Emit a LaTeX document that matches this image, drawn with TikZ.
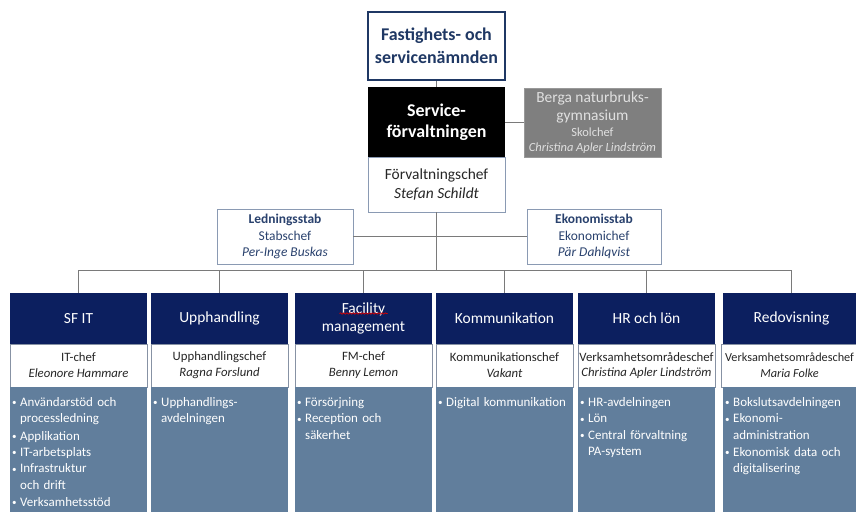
\documentclass[tikz,border=0pt]{standalone}
\usepackage{fontspec}
\setmainfont{Carlito}
\usetikzlibrary{decorations.pathmorphing}

\definecolor{boardnavy}{HTML}{1F3864}
\definecolor{headnavy}{HTML}{0C1F5F}
\definecolor{slate}{HTML}{617E9C}
\definecolor{schoolgray}{HTML}{7F7F7F}
\definecolor{staffline}{HTML}{8A9AB3}
\definecolor{wire}{HTML}{7A7A7A}
\definecolor{stafftext}{HTML}{2A426E}

% one bullet entry of a unit's list; its extra lines stay under the text
\newcommand{\unititem}[1]{\par\noindent
  \makebox[8bp][l]{\raisebox{0.6bp}{\scalebox{0.7}{•}}}%
  \begin{tabular}[t]{@{}l@{}}#1\end{tabular}\par}

\begin{document}
\begin{tikzpicture}[x=1bp,y=-1bp,
  conn/.style={draw=wire, line width=0.9bp},
  boardbox/.style={draw=boardnavy, line width=2bp, fill=white, text=boardnavy,
    font=\bfseries\fontsize{18}{23}\selectfont, align=center,
    minimum width=137bp, minimum height=68bp, inner sep=0pt},
  mainbox/.style={fill=black, text=white, font=\bfseries\fontsize{18}{21}\selectfont,
    align=center, minimum width=137bp, minimum height=70bp, inner sep=0pt},
  chiefbox/.style={draw=staffline, line width=0.8bp, fill=white, text=black!85,
    font=\fontsize{15.5}{19}\selectfont, align=center,
    minimum width=137bp, minimum height=55bp, inner sep=0pt},
  schoolbox/.style={fill=schoolgray, draw=schoolgray!80!white, text=white!88!black,
    font=\fontsize{12.5}{15.5}\selectfont, align=center,
    minimum width=137bp, minimum height=69bp, inner sep=0pt},
  staffbox/.style={draw=staffline, line width=0.9bp, fill=white, text=stafftext,
    font=\fontsize{13.5}{16.5}\selectfont, align=center,
    minimum height=55bp, inner sep=0pt},
  unithead/.style={fill=headnavy, text=white, font=\fontsize{15.5}{17.5}\selectfont,
    align=center, minimum width=137bp, minimum height=51bp, inner sep=0pt},
  unitchief/.style={fill=white, draw=staffline!70!gray, line width=0.8bp, text=black!85,
    font=\fontsize{12.8}{16}\selectfont, align=center,
    minimum width=137bp, minimum height=43bp, inner sep=0pt},
  unitbody/.style={fill=slate, minimum width=137bp, minimum height=133bp, inner sep=0pt},
  unitlist/.style={anchor=north west, text=white, text width=134bp, align=left,
    font=\fontsize{13}{16.4}\selectfont, inner sep=0pt},
  spellmark/.style={draw=red!85!black, line width=0.7bp, decorate,
    decoration={snake, amplitude=0.7bp, segment length=3.2bp}}
]
\useasboundingbox (0,0) rectangle (856,512);
\fill[white] (0,0) rectangle (856,512);

% ---- board, administration and school ----
\node[boardbox] (board) at (436.5,46) {Fastighets- och\\servicenämnden};
\node[mainbox] (admin) at (436.5,122) {Service-\\förvaltningen};
\node[chiefbox] (chief) at (436.5,184.5) {Förvaltningschef\\\textit{Stefan Schildt}};
\node[schoolbox] (school) at (592.5,122.5)
  {{\fontsize{15.5}{19}\selectfont Berga naturbruks-}\\[3bp]
   {\fontsize{15.5}{19}\selectfont gymnasium}\\Skolchef\\\textit{Christina Apler Lindström}};

\draw[conn] (board.south) -- (admin.north);
\draw[conn] (admin.east |- school.west) -- (school.west);

% ---- staff units ----
\node[staffbox, minimum width=136bp] (lstab) at (285,236.5)
  {\textbf{Ledningsstab}\\Stabschef\\\textit{Per-Inge Buskas}};
\node[staffbox, minimum width=134bp] (estab) at (594,236.5)
  {\textbf{Ekonomisstab}\\Ekonomichef\\\textit{Pär Dahlqvist}};

\coordinate (bus) at (436.5,270);
\draw[conn] (chief.south) -- (bus);
\draw[conn] (lstab.east) -- (estab.west);

% ---- operating units: heading, manager, sections ----
\node[unithead] (h1) at (78.5,318.5) {SF IT};
\node[unithead] (h2) at (219.5,318.5) {Upphandling};
\node[unithead] (h3) at (363.5,318.5) {Facility\\management};
\node[unithead] (h4) at (504.5,318.5) {Kommunikation};
\node[unithead] (h5) at (646.5,318.5) {HR och lön};
\node[unithead] (h6) at (791.5,318.5) {Redovisning};

\node[unitchief] (c1) at (78.5,365.5) {IT-chef\\\textit{Eleonore Hammare}};
\node[unitchief] (c2) at (219.5,365.5) {Upphandlingschef\\\textit{Ragna Forslund}};
\node[unitchief] (c3) at (363.5,365.5) {FM-chef\\\textit{Benny Lemon}};
\node[unitchief] (c4) at (504.5,365.5) {Kommunikationschef\\\textit{Vakant}};
\node[unitchief] (c5) at (646.5,365.5) {Verksamhetsområdeschef\\\textit{Christina Apler Lindström}};
\node[unitchief, font=\fontsize{12.3}{16}\selectfont] (c6) at (789.5,365.5)
  {Verksamhetsområdeschef\\\textit{Maria Folke}};

\node[unitbody] (b1) at (78.5,453.5) {};
\node[unitbody] (b2) at (219.5,453.5) {};
\node[unitbody] (b3) at (363.5,453.5) {};
\node[unitbody] (b4) at (504.5,453.5) {};
\node[unitbody] (b5) at (646.5,453.5) {};
\node[unitbody] (b6) at (791.5,453.5) {};

\node[unitlist] (l1) at (12,390) {%
  \unititem{Användarstöd och\\processledning}
  \unititem{Applikation}
  \unititem{IT-arbetsplats}
  \unititem{Infrastruktur\\och drift}
  \unititem{Verksamhetsstöd}};
\node[unitlist] (l2) at (153,390) {%
  \unititem{Upphandlings-\\avdelningen}};
\node[unitlist] (l3) at (297,390) {%
  \unititem{Försörjning}
  \unititem{Reception och\\säkerhet}};
\node[unitlist] (l4) at (438,390) {%
  \unititem{Digital kommunikation}};
\node[unitlist] (l5) at (580,390) {%
  \unititem{HR-avdelningen}
  \unititem{Lön}
  \unititem{Central förvaltning\\PA-system}};
\node[unitlist] (l6) at (725,390) {%
  \unititem{Bokslutsavdelningen}
  \unititem{Ekonomi-\\administration}
  \unititem{Ekonomisk data och\\digitalisering}};

% wavy proofing mark under "Facility"
\path (h3.center) ++(-24,-5) coordinate (sq1) ++(48,0) coordinate (sq2);
\draw[spellmark] (sq1) -- (sq2);

% bus from the administration down to every unit
\foreach \u in {h1,h2,h3,h4,h5,h6}
  \draw[conn] (bus) -| (\u.north);
\end{tikzpicture}
\end{document}
